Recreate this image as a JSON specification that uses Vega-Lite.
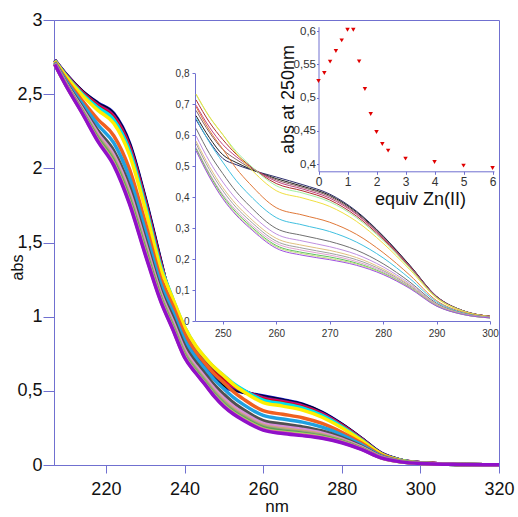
{
  "$schema": "https://vega.github.io/schema/vega-lite/v6.json",
  "width": 445,
  "height": 445,
  "autosize": {"type": "none"},
  "padding": {"left": 54, "top": 20, "right": 19, "bottom": 52},
  "background": "white",
  "config": {
    "view": {"stroke": "#7070d0", "strokeWidth": 1},
    "font": "Liberation Sans",
    "axis": {
      "grid": false,
      "domainColor": "#7070d0",
      "tickColor": "#7070d0",
      "labelColor": "#111111",
      "titleColor": "#111111",
      "labelFont": "Liberation Sans",
      "titleFont": "Liberation Sans",
      "titleFontWeight": "normal",
      "labelFlush": false,
      "labelOverlap": false
    }
  },
  "datasets": {
    "spec": [
      {"e":0,"w":207,"a":2.73},{"e":0.2,"w":207,"a":2.729},{"e":0.4,"w":207,"a":2.729},{"e":0.6,"w":207,"a":2.728},{"e":0.8,"w":207,"a":2.727},{"e":1,"w":207,"a":2.726},{"e":1.2,"w":207,"a":2.724},{"e":1.4,"w":207,"a":2.717},{"e":1.6,"w":207,"a":2.713},{"e":1.8,"w":207,"a":2.708},{"e":2,"w":207,"a":2.706},{"e":2.2,"w":207,"a":2.704},{"e":2.4,"w":207,"a":2.703},{"e":3,"w":207,"a":2.702},{"e":4,"w":207,"a":2.701},{"e":5,"w":207,"a":2.701},{"e":6,"w":207,"a":2.7},
      {"e":0,"w":210,"a":2.63},{"e":0.2,"w":210,"a":2.628},{"e":0.4,"w":210,"a":2.627},{"e":0.6,"w":210,"a":2.625},{"e":0.8,"w":210,"a":2.623},{"e":1,"w":210,"a":2.62},{"e":1.2,"w":210,"a":2.615},{"e":1.4,"w":210,"a":2.596},{"e":1.6,"w":210,"a":2.584},{"e":1.8,"w":210,"a":2.572},{"e":2,"w":210,"a":2.566},{"e":2.2,"w":210,"a":2.561},{"e":2.4,"w":210,"a":2.558},{"e":3,"w":210,"a":2.556},{"e":4,"w":210,"a":2.553},{"e":5,"w":210,"a":2.552},{"e":6,"w":210,"a":2.55},
      {"e":0,"w":214,"a":2.52},{"e":0.2,"w":214,"a":2.517},{"e":0.4,"w":214,"a":2.514},{"e":0.6,"w":214,"a":2.511},{"e":0.8,"w":214,"a":2.507},{"e":1,"w":214,"a":2.502},{"e":1.2,"w":214,"a":2.492},{"e":1.4,"w":214,"a":2.456},{"e":1.6,"w":214,"a":2.435},{"e":1.8,"w":214,"a":2.412},{"e":2,"w":214,"a":2.4},{"e":2.2,"w":214,"a":2.391},{"e":2.4,"w":214,"a":2.385},{"e":3,"w":214,"a":2.381},{"e":4,"w":214,"a":2.376},{"e":5,"w":214,"a":2.373},{"e":6,"w":214,"a":2.37},
      {"e":0,"w":218,"a":2.44},{"e":0.2,"w":218,"a":2.435},{"e":0.4,"w":218,"a":2.43},{"e":0.6,"w":218,"a":2.424},{"e":0.8,"w":218,"a":2.417},{"e":1,"w":218,"a":2.409},{"e":1.2,"w":218,"a":2.391},{"e":1.4,"w":218,"a":2.328},{"e":1.6,"w":218,"a":2.292},{"e":1.8,"w":218,"a":2.253},{"e":2,"w":218,"a":2.232},{"e":2.2,"w":218,"a":2.216},{"e":2.4,"w":218,"a":2.206},{"e":3,"w":218,"a":2.198},{"e":4,"w":218,"a":2.19},{"e":5,"w":218,"a":2.185},{"e":6,"w":218,"a":2.18},
      {"e":0,"w":222,"a":2.37},{"e":0.2,"w":222,"a":2.363},{"e":0.4,"w":222,"a":2.356},{"e":0.6,"w":222,"a":2.349},{"e":0.8,"w":222,"a":2.339},{"e":1,"w":222,"a":2.328},{"e":1.2,"w":222,"a":2.304},{"e":1.4,"w":222,"a":2.22},{"e":1.6,"w":222,"a":2.171},{"e":1.8,"w":222,"a":2.118},{"e":2,"w":222,"a":2.09},{"e":2.2,"w":222,"a":2.069},{"e":2.4,"w":222,"a":2.055},{"e":3,"w":222,"a":2.045},{"e":4,"w":222,"a":2.034},{"e":5,"w":222,"a":2.027},{"e":6,"w":222,"a":2.02},
      {"e":0,"w":226,"a":2.17},{"e":0.2,"w":226,"a":2.162},{"e":0.4,"w":226,"a":2.154},{"e":0.6,"w":226,"a":2.145},{"e":0.8,"w":226,"a":2.133},{"e":1,"w":226,"a":2.121},{"e":1.2,"w":226,"a":2.092},{"e":1.4,"w":226,"a":1.994},{"e":1.6,"w":226,"a":1.936},{"e":1.8,"w":226,"a":1.875},{"e":2,"w":226,"a":1.842},{"e":2.2,"w":226,"a":1.817},{"e":2.4,"w":226,"a":1.801},{"e":3,"w":226,"a":1.789},{"e":4,"w":226,"a":1.776},{"e":5,"w":226,"a":1.768},{"e":6,"w":226,"a":1.76},
      {"e":0,"w":230,"a":1.8},{"e":0.2,"w":230,"a":1.792},{"e":0.4,"w":230,"a":1.785},{"e":0.6,"w":230,"a":1.777},{"e":0.8,"w":230,"a":1.766},{"e":1,"w":230,"a":1.754},{"e":1.2,"w":230,"a":1.728},{"e":1.4,"w":230,"a":1.637},{"e":1.6,"w":230,"a":1.583},{"e":1.8,"w":230,"a":1.526},{"e":2,"w":230,"a":1.496},{"e":2.2,"w":230,"a":1.473},{"e":2.4,"w":230,"a":1.458},{"e":3,"w":230,"a":1.447},{"e":4,"w":230,"a":1.435},{"e":5,"w":230,"a":1.428},{"e":6,"w":230,"a":1.42},
      {"e":0,"w":234,"a":1.37},{"e":0.2,"w":234,"a":1.365},{"e":0.4,"w":234,"a":1.359},{"e":0.6,"w":234,"a":1.354},{"e":0.8,"w":234,"a":1.346},{"e":1,"w":234,"a":1.338},{"e":1.2,"w":234,"a":1.319},{"e":1.4,"w":234,"a":1.254},{"e":1.6,"w":234,"a":1.216},{"e":1.8,"w":234,"a":1.176},{"e":2,"w":234,"a":1.154},{"e":2.2,"w":234,"a":1.138},{"e":2.4,"w":234,"a":1.127},{"e":3,"w":234,"a":1.119},{"e":4,"w":234,"a":1.111},{"e":5,"w":234,"a":1.105},{"e":6,"w":234,"a":1.1},
      {"e":0,"w":237,"a":1.045},{"e":0.2,"w":237,"a":1.057},{"e":0.4,"w":237,"a":1.074},{"e":0.6,"w":237,"a":1.09},{"e":0.8,"w":237,"a":1.106},{"e":1,"w":237,"a":1.122},{"e":1.2,"w":237,"a":1.122},{"e":1.4,"w":237,"a":1.075},{"e":1.6,"w":237,"a":1.033},{"e":1.8,"w":237,"a":0.996},{"e":2,"w":237,"a":0.969},{"e":2.2,"w":237,"a":0.951},{"e":2.4,"w":237,"a":0.941},{"e":3,"w":237,"a":0.929},{"e":4,"w":237,"a":0.924},{"e":5,"w":237,"a":0.918},{"e":6,"w":237,"a":0.915},
      {"e":0,"w":240,"a":0.855},{"e":0.2,"w":240,"a":0.867},{"e":0.4,"w":240,"a":0.884},{"e":0.6,"w":240,"a":0.9},{"e":0.8,"w":240,"a":0.916},{"e":1,"w":240,"a":0.932},{"e":1.2,"w":240,"a":0.932},{"e":1.4,"w":240,"a":0.885},{"e":1.6,"w":240,"a":0.843},{"e":1.8,"w":240,"a":0.806},{"e":2,"w":240,"a":0.779},{"e":2.2,"w":240,"a":0.761},{"e":2.4,"w":240,"a":0.751},{"e":3,"w":240,"a":0.739},{"e":4,"w":240,"a":0.734},{"e":5,"w":240,"a":0.728},{"e":6,"w":240,"a":0.725},
      {"e":0,"w":243,"a":0.715},{"e":0.2,"w":243,"a":0.728},{"e":0.4,"w":243,"a":0.745},{"e":0.6,"w":243,"a":0.762},{"e":0.8,"w":243,"a":0.779},{"e":1,"w":243,"a":0.796},{"e":1.2,"w":243,"a":0.798},{"e":1.4,"w":243,"a":0.757},{"e":1.6,"w":243,"a":0.72},{"e":1.8,"w":243,"a":0.687},{"e":2,"w":243,"a":0.663},{"e":2.2,"w":243,"a":0.646},{"e":2.4,"w":243,"a":0.638},{"e":3,"w":243,"a":0.626},{"e":4,"w":243,"a":0.622},{"e":5,"w":243,"a":0.617},{"e":6,"w":243,"a":0.615},
      {"e":0,"w":245,"a":0.65},{"e":0.2,"w":245,"a":0.663},{"e":0.4,"w":245,"a":0.68},{"e":0.6,"w":245,"a":0.697},{"e":0.8,"w":245,"a":0.714},{"e":1,"w":245,"a":0.731},{"e":1.2,"w":245,"a":0.733},{"e":1.4,"w":245,"a":0.692},{"e":1.6,"w":245,"a":0.655},{"e":1.8,"w":245,"a":0.622},{"e":2,"w":245,"a":0.598},{"e":2.2,"w":245,"a":0.581},{"e":2.4,"w":245,"a":0.573},{"e":3,"w":245,"a":0.561},{"e":4,"w":245,"a":0.557},{"e":5,"w":245,"a":0.552},{"e":6,"w":245,"a":0.55},
      {"e":0,"w":247.5,"a":0.58},{"e":0.2,"w":247.5,"a":0.592},{"e":0.4,"w":247.5,"a":0.609},{"e":0.6,"w":247.5,"a":0.626},{"e":0.8,"w":247.5,"a":0.642},{"e":1,"w":247.5,"a":0.659},{"e":1.2,"w":247.5,"a":0.66},{"e":1.4,"w":247.5,"a":0.616},{"e":1.6,"w":247.5,"a":0.577},{"e":1.8,"w":247.5,"a":0.541},{"e":2,"w":247.5,"a":0.516},{"e":2.2,"w":247.5,"a":0.499},{"e":2.4,"w":247.5,"a":0.489},{"e":3,"w":247.5,"a":0.477},{"e":4,"w":247.5,"a":0.473},{"e":5,"w":247.5,"a":0.468},{"e":6,"w":247.5,"a":0.465},
      {"e":0,"w":250,"a":0.525},{"e":0.2,"w":250,"a":0.537},{"e":0.4,"w":250,"a":0.554},{"e":0.6,"w":250,"a":0.57},{"e":0.8,"w":250,"a":0.586},{"e":1,"w":250,"a":0.602},{"e":1.2,"w":250,"a":0.602},{"e":1.4,"w":250,"a":0.555},{"e":1.6,"w":250,"a":0.513},{"e":1.8,"w":250,"a":0.476},{"e":2,"w":250,"a":0.449},{"e":2.2,"w":250,"a":0.431},{"e":2.4,"w":250,"a":0.421},{"e":3,"w":250,"a":0.409},{"e":4,"w":250,"a":0.404},{"e":5,"w":250,"a":0.398},{"e":6,"w":250,"a":0.395},
      {"e":0,"w":252.5,"a":0.505},{"e":0.2,"w":252.5,"a":0.512},{"e":0.4,"w":252.5,"a":0.522},{"e":0.6,"w":252.5,"a":0.531},{"e":0.8,"w":252.5,"a":0.539},{"e":1,"w":252.5,"a":0.548},{"e":1.2,"w":252.5,"a":0.542},{"e":1.4,"w":252.5,"a":0.493},{"e":1.6,"w":252.5,"a":0.454},{"e":1.8,"w":252.5,"a":0.418},{"e":2,"w":252.5,"a":0.394},{"e":2.2,"w":252.5,"a":0.377},{"e":2.4,"w":252.5,"a":0.367},{"e":3,"w":252.5,"a":0.357},{"e":4,"w":252.5,"a":0.351},{"e":5,"w":252.5,"a":0.346},{"e":6,"w":252.5,"a":0.342},
      {"e":0,"w":255,"a":0.49},{"e":0.2,"w":255,"a":0.492},{"e":0.4,"w":255,"a":0.496},{"e":0.6,"w":255,"a":0.5},{"e":0.8,"w":255,"a":0.502},{"e":1,"w":255,"a":0.505},{"e":1.2,"w":255,"a":0.495},{"e":1.4,"w":255,"a":0.444},{"e":1.6,"w":255,"a":0.407},{"e":1.8,"w":255,"a":0.372},{"e":2,"w":255,"a":0.35},{"e":2.2,"w":255,"a":0.334},{"e":2.4,"w":255,"a":0.325},{"e":3,"w":255,"a":0.316},{"e":4,"w":255,"a":0.31},{"e":5,"w":255,"a":0.305},{"e":6,"w":255,"a":0.301},
      {"e":0,"w":260,"a":0.465},{"e":0.2,"w":260,"a":0.46},{"e":0.4,"w":260,"a":0.456},{"e":0.6,"w":260,"a":0.451},{"e":0.8,"w":260,"a":0.444},{"e":1,"w":260,"a":0.437},{"e":1.2,"w":260,"a":0.421},{"e":1.4,"w":260,"a":0.366},{"e":1.6,"w":260,"a":0.334},{"e":1.8,"w":260,"a":0.299},{"e":2,"w":260,"a":0.281},{"e":2.2,"w":260,"a":0.267},{"e":2.4,"w":260,"a":0.258},{"e":3,"w":260,"a":0.251},{"e":4,"w":260,"a":0.244},{"e":5,"w":260,"a":0.24},{"e":6,"w":260,"a":0.235},
      {"e":0,"w":265,"a":0.44},{"e":0.2,"w":265,"a":0.435},{"e":0.4,"w":265,"a":0.431},{"e":0.6,"w":265,"a":0.426},{"e":0.8,"w":265,"a":0.42},{"e":1,"w":265,"a":0.413},{"e":1.2,"w":265,"a":0.397},{"e":1.4,"w":265,"a":0.342},{"e":1.6,"w":265,"a":0.31},{"e":1.8,"w":265,"a":0.276},{"e":2,"w":265,"a":0.258},{"e":2.2,"w":265,"a":0.244},{"e":2.4,"w":265,"a":0.235},{"e":3,"w":265,"a":0.228},{"e":4,"w":265,"a":0.221},{"e":5,"w":265,"a":0.217},{"e":6,"w":265,"a":0.212},
      {"e":0,"w":270,"a":0.41},{"e":0.2,"w":270,"a":0.406},{"e":0.4,"w":270,"a":0.402},{"e":0.6,"w":270,"a":0.397},{"e":0.8,"w":270,"a":0.391},{"e":1,"w":270,"a":0.385},{"e":1.2,"w":270,"a":0.37},{"e":1.4,"w":270,"a":0.319},{"e":1.6,"w":270,"a":0.289},{"e":1.8,"w":270,"a":0.257},{"e":2,"w":270,"a":0.24},{"e":2.2,"w":270,"a":0.228},{"e":2.4,"w":270,"a":0.219},{"e":3,"w":270,"a":0.213},{"e":4,"w":270,"a":0.207},{"e":5,"w":270,"a":0.202},{"e":6,"w":270,"a":0.198},
      {"e":0,"w":275,"a":0.355},{"e":0.2,"w":275,"a":0.352},{"e":0.4,"w":275,"a":0.348},{"e":0.6,"w":275,"a":0.345},{"e":0.8,"w":275,"a":0.339},{"e":1,"w":275,"a":0.334},{"e":1.2,"w":275,"a":0.322},{"e":1.4,"w":275,"a":0.28},{"e":1.6,"w":275,"a":0.255},{"e":1.8,"w":275,"a":0.229},{"e":2,"w":275,"a":0.215},{"e":2.2,"w":275,"a":0.205},{"e":2.4,"w":275,"a":0.198},{"e":3,"w":275,"a":0.192},{"e":4,"w":275,"a":0.187},{"e":5,"w":275,"a":0.184},{"e":6,"w":275,"a":0.18},
      {"e":0,"w":280,"a":0.275},{"e":0.2,"w":280,"a":0.273},{"e":0.4,"w":280,"a":0.27},{"e":0.6,"w":280,"a":0.268},{"e":0.8,"w":280,"a":0.264},{"e":1,"w":280,"a":0.26},{"e":1.2,"w":280,"a":0.251},{"e":1.4,"w":280,"a":0.221},{"e":1.6,"w":280,"a":0.204},{"e":1.8,"w":280,"a":0.185},{"e":2,"w":280,"a":0.175},{"e":2.2,"w":280,"a":0.168},{"e":2.4,"w":280,"a":0.163},{"e":3,"w":280,"a":0.159},{"e":4,"w":280,"a":0.155},{"e":5,"w":280,"a":0.153},{"e":6,"w":280,"a":0.15},
      {"e":0,"w":285,"a":0.18},{"e":0.2,"w":285,"a":0.179},{"e":0.4,"w":285,"a":0.177},{"e":0.6,"w":285,"a":0.176},{"e":0.8,"w":285,"a":0.173},{"e":1,"w":285,"a":0.171},{"e":1.2,"w":285,"a":0.166},{"e":1.4,"w":285,"a":0.148},{"e":1.6,"w":285,"a":0.137},{"e":1.8,"w":285,"a":0.126},{"e":2,"w":285,"a":0.12},{"e":2.2,"w":285,"a":0.116},{"e":2.4,"w":285,"a":0.113},{"e":3,"w":285,"a":0.11},{"e":4,"w":285,"a":0.108},{"e":5,"w":285,"a":0.107},{"e":6,"w":285,"a":0.105},
      {"e":0,"w":290,"a":0.08},{"e":0.2,"w":290,"a":0.079},{"e":0.4,"w":290,"a":0.079},{"e":0.6,"w":290,"a":0.078},{"e":0.8,"w":290,"a":0.077},{"e":1,"w":290,"a":0.076},{"e":1.2,"w":290,"a":0.074},{"e":1.4,"w":290,"a":0.066},{"e":1.6,"w":290,"a":0.062},{"e":1.8,"w":290,"a":0.057},{"e":2,"w":290,"a":0.054},{"e":2.2,"w":290,"a":0.053},{"e":2.4,"w":290,"a":0.051},{"e":3,"w":290,"a":0.05},{"e":4,"w":290,"a":0.049},{"e":5,"w":290,"a":0.049},{"e":6,"w":290,"a":0.048},
      {"e":0,"w":295,"a":0.033},{"e":0.2,"w":295,"a":0.033},{"e":0.4,"w":295,"a":0.033},{"e":0.6,"w":295,"a":0.032},{"e":0.8,"w":295,"a":0.032},{"e":1,"w":295,"a":0.032},{"e":1.2,"w":295,"a":0.031},{"e":1.4,"w":295,"a":0.028},{"e":1.6,"w":295,"a":0.026},{"e":1.8,"w":295,"a":0.024},{"e":2,"w":295,"a":0.023},{"e":2.2,"w":295,"a":0.023},{"e":2.4,"w":295,"a":0.022},{"e":3,"w":295,"a":0.022},{"e":4,"w":295,"a":0.021},{"e":5,"w":295,"a":0.021},{"e":6,"w":295,"a":0.021},
      {"e":0,"w":300,"a":0.015},{"e":0.2,"w":300,"a":0.015},{"e":0.4,"w":300,"a":0.015},{"e":0.6,"w":300,"a":0.015},{"e":0.8,"w":300,"a":0.015},{"e":1,"w":300,"a":0.014},{"e":1.2,"w":300,"a":0.014},{"e":1.4,"w":300,"a":0.013},{"e":1.6,"w":300,"a":0.012},{"e":1.8,"w":300,"a":0.011},{"e":2,"w":300,"a":0.011},{"e":2.2,"w":300,"a":0.011},{"e":2.4,"w":300,"a":0.011},{"e":3,"w":300,"a":0.01},{"e":4,"w":300,"a":0.01},{"e":5,"w":300,"a":0.01},{"e":6,"w":300,"a":0.01},
      {"e":0,"w":310,"a":0.004},{"e":0.2,"w":310,"a":0.004},{"e":0.4,"w":310,"a":0.004},{"e":0.6,"w":310,"a":0.004},{"e":0.8,"w":310,"a":0.004},{"e":1,"w":310,"a":0.004},{"e":1.2,"w":310,"a":0.004},{"e":1.4,"w":310,"a":0.004},{"e":1.6,"w":310,"a":0.004},{"e":1.8,"w":310,"a":0.004},{"e":2,"w":310,"a":0.004},{"e":2.2,"w":310,"a":0.004},{"e":2.4,"w":310,"a":0.004},{"e":3,"w":310,"a":0.004},{"e":4,"w":310,"a":0.004},{"e":5,"w":310,"a":0.004},{"e":6,"w":310,"a":0.004},
      {"e":0,"w":320,"a":0.002},{"e":0.2,"w":320,"a":0.002},{"e":0.4,"w":320,"a":0.002},{"e":0.6,"w":320,"a":0.002},{"e":0.8,"w":320,"a":0.002},{"e":1,"w":320,"a":0.002},{"e":1.2,"w":320,"a":0.002},{"e":1.4,"w":320,"a":0.002},{"e":1.6,"w":320,"a":0.002},{"e":1.8,"w":320,"a":0.002},{"e":2,"w":320,"a":0.002},{"e":2.2,"w":320,"a":0.002},{"e":2.4,"w":320,"a":0.002},{"e":3,"w":320,"a":0.002},{"e":4,"w":320,"a":0.002},{"e":5,"w":320,"a":0.002},{"e":6,"w":320,"a":0.002}
    ],
    "zn": [
      {"e":0,"a":0.525},{"e":0.2,"a":0.537},{"e":0.4,"a":0.554},{"e":0.6,"a":0.57},{"e":0.8,"a":0.586},{"e":1,"a":0.602},{"e":1.2,"a":0.602},{"e":1.4,"a":0.5545},{"e":1.6,"a":0.513},{"e":1.8,"a":0.4755},{"e":2,"a":0.4485},{"e":2.2,"a":0.4305},{"e":2.4,"a":0.4205},{"e":3,"a":0.4085},{"e":4,"a":0.4035},{"e":5,"a":0.398},{"e":6,"a":0.3945}
    ]
  },
  "layer": [
    {
      "data": {"name": "spec"},
      "mark": {"type": "line", "strokeWidth": 3.5, "interpolate": "monotone"},
      "encoding": {
        "x": {
          "field": "w", "type": "quantitative",
          "scale": {"domain": [206.8, 320], "nice": false, "zero": false},
          "axis": {
            "orient": "bottom", "values": [220, 240, 260, 280, 300, 320],
            "tickSize": 8, "labelFontSize": 18, "labelPadding": 7,
            "title": "nm", "titleFontSize": 17, "titleY": 46, "titleBaseline": "alphabetic"
          }
        },
        "y": {
          "field": "a", "type": "quantitative",
          "scale": {"domain": [0, 3], "nice": false},
          "axis": {
            "orient": "left", "values": [0, 0.5, 1, 1.5, 2, 2.5, 3],
            "labelExpr": "replace('' + datum.value, '.', ',')",
            "tickSize": 11, "labelFontSize": 18, "labelPadding": 1,
            "title": "abs", "titleFontSize": 16, "titleX": -32, "titleY": 247, "titleBaseline": "alphabetic"
          }
        },
        "color": {
          "field": "e", "type": "nominal", "legend": null,
          "scale": {
            "domain": [0, 0.2, 0.4, 0.6, 0.8, 1, 1.2, 1.4, 1.6, 1.8, 2, 2.2, 2.4, 3, 4, 5, 6],
            "range": ["#1010c8", "#000000", "#202080", "#e0007a", "#d01010", "#00e0f0", "#ffee00", "#f06020", "#20a0e0", "#505050", "#d890d8", "#c8a878", "#8fa07f", "#5aa050", "#a0e060", "#e070a0", "#9010c8"]
          }
        }
      }
    },
    {
      "data": {"name": "spec"},
      "transform": [{"filter": "datum.w >= 245 && datum.w <= 300"}],
      "mark": {"type": "line", "strokeWidth": 1, "interpolate": "monotone"},
      "encoding": {
        "x": {
          "field": "w", "type": "quantitative",
          "scale": {"domain": [244.8, 300], "range": [141, 436], "nice": false, "zero": false},
          "axis": {
            "orient": "bottom", "offset": -144, "values": [250, 260, 270, 280, 290, 300],
            "tickSize": 3, "labelFontSize": 10, "labelPadding": 4, "labelColor": "#333333", "title": null
          }
        },
        "y": {
          "field": "a", "type": "quantitative",
          "scale": {"domain": [0, 0.8], "range": [301, 53.3], "nice": false},
          "axis": {
            "orient": "left", "offset": -141, "values": [0, 0.1, 0.2, 0.3, 0.4, 0.5, 0.6, 0.7, 0.8],
            "labelExpr": "replace('' + datum.value, '.', ',')",
            "tickSize": 3, "labelFontSize": 10, "labelPadding": 3, "labelColor": "#333333", "title": null
          }
        },
        "color": {
          "field": "e", "type": "nominal", "legend": null,
          "scale": {
            "domain": [0, 0.2, 0.4, 0.6, 0.8, 1, 1.2, 1.4, 1.6, 1.8, 2, 2.2, 2.4, 3, 4, 5, 6],
            "range": ["#303070", "#202020", "#8a6060", "#c04080", "#b03030", "#a0f0a0", "#f0e040", "#e07838", "#40c0e0", "#707070", "#c090e0", "#e0c080", "#a0a0a0", "#e0a0d0", "#60c060", "#c0e080", "#a050e0"]
          }
        }
      }
    },
    {
      "data": {"name": "zn"},
      "mark": {"type": "point", "shape": "triangle-down", "filled": true, "color": "#e00000", "size": 20, "opacity": 1},
      "encoding": {
        "x": {
          "field": "e", "type": "quantitative",
          "scale": {"domain": [0, 6.05], "range": [264.5, 440], "nice": false, "zero": false},
          "axis": {
            "orient": "bottom", "offset": -293.7, "values": [0, 1, 2, 3, 4, 5, 6],
            "tickSize": 3, "labelFontSize": 12, "labelPadding": 2, "labelColor": "#333333",
            "title": "equiv Zn(II)", "titleFontSize": 18, "titleX": 366, "titleY": 33, "titleBaseline": "alphabetic"
          }
        },
        "y": {
          "field": "a", "type": "quantitative",
          "scale": {"domain": [0.3895, 0.6065], "range": [151.3, 6.7], "nice": false, "zero": false},
          "axis": {
            "orient": "left", "offset": -264.5, "values": [0.4, 0.45, 0.5, 0.55, 0.6],
            "labelExpr": "replace('' + datum.value, '.', ',')",
            "tickSize": 2, "labelFontSize": 11.5, "labelPadding": 1, "labelColor": "#333333",
            "title": "abs at 250nm", "titleFontSize": 18, "titleX": -25.5, "titleY": 79, "titleBaseline": "alphabetic"
          }
        }
      }
    }
  ],
  "resolve": {
    "scale": {"x": "independent", "y": "independent", "color": "independent"},
    "axis": {"x": "independent", "y": "independent"}
  }
}
